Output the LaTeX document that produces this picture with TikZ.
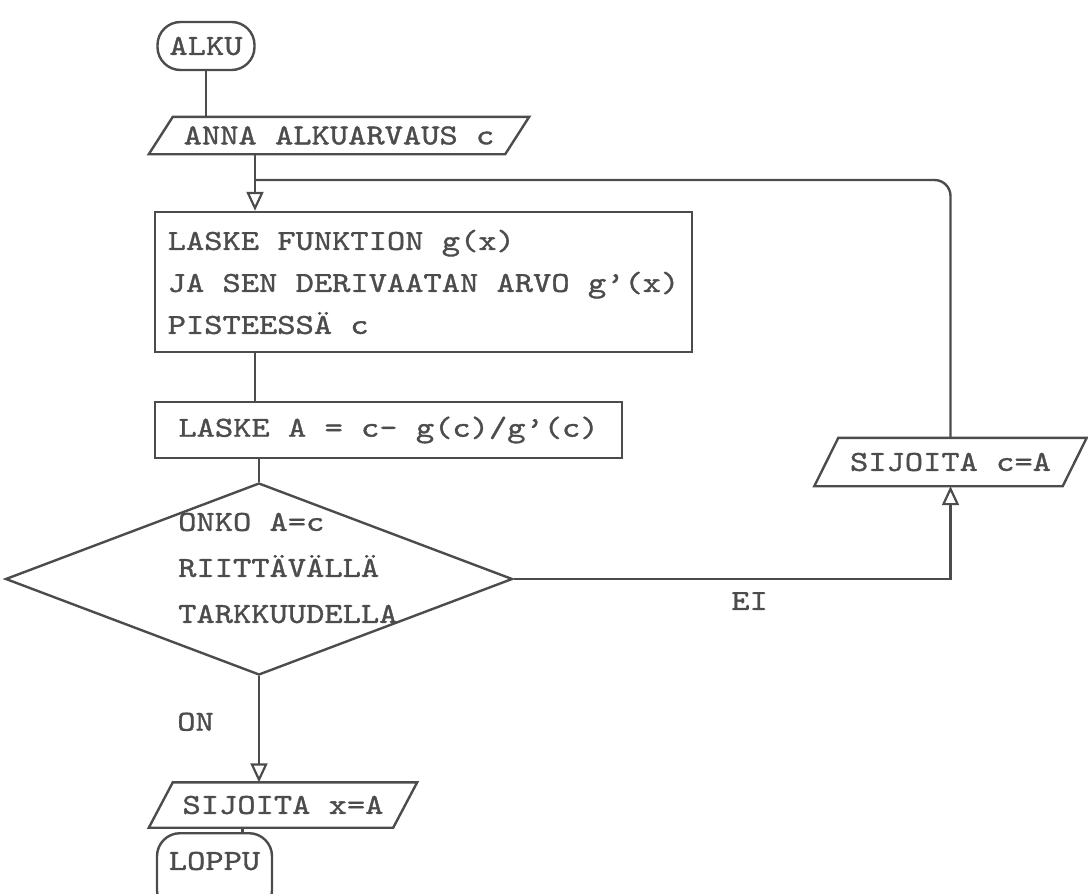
\documentclass[tikz,border=0pt]{standalone}
\usepackage{fontspec}
\newfontfamily\twfont{lmmono10-regular.otf}[FakeStretch=1.2, FakeBold=1.2]
\usetikzlibrary{arrows.meta,positioning,shapes.geometric}
\definecolor{ink}{gray}{0.3}
\tikzset{
  txt/.style={font=\twfont\fontsize{29}{42}\selectfont, text=ink, inner sep=0pt},
  term/.style={txt, draw=ink, line width=2.4pt, rounded corners=23pt},
  proc/.style={txt, draw=ink, line width=2.4pt, align=left},
  io/.style={txt},
  decide/.style={txt, draw=ink, line width=2.4pt, diamond},
  lbl/.style={txt},
  wire/.style={draw=ink, line width=2.4pt},
  arr/.style={wire, -{Triangle[open, length=19pt, width=17pt, line width=2.2pt]}},
}
\begin{document}
\begin{tikzpicture}[x=1pt,y=-1pt]
\useasboundingbox (0,0) rectangle (1088,894);
% main column
\node[term, minimum width=97pt, minimum height=48pt] (alku) at (206,46) {ALKU};
\node[io, minimum width=356pt, minimum height=37pt] (anna) at (339,135.5) {ANNA ALKUARVAUS c};
\coordinate (join) at (255,180);
\node[proc, minimum width=537pt, minimum height=140pt] (laske1) at (423.5,282) {LASKE FUNKTION g(x)\\JA SEN DERIVAATAN ARVO g’(x)\\PISTEESSÄ c};
\node[proc, minimum width=467pt, minimum height=56pt] (laske2) at (388.5,430) {LASKE A = c- g(c)/g’(c)};
\node[decide, minimum width=507pt, minimum height=192pt] (test) at (259,579) {};
\node[txt, align=left, anchor=west, font=\twfont\fontsize{29}{46}\selectfont] (testtxt) at (178,568) {ONKO A=c\\RIITTÄVÄLLÄ\\TARKKUUDELLA};
\node[io, minimum width=244pt, minimum height=45pt] (sijx) at (283,805) {SIJOITA x=A};
\node[term, minimum width=115pt, minimum height=80pt, anchor=north] (loppu) at (214.5,832) {};
\node[txt] (lopputxt) at (214.5,861) {LOPPU};
% loop back
\node[io, minimum width=248pt, minimum height=48pt] (sijc) at (950.5,462) {SIJOITA c=A};
% input/output outlines
\foreach \n in {anna,sijc,sijx}
  \draw[wire] ([xshift=12pt]\n.north west) -- ([xshift=12pt]\n.north east)
    -- ([xshift=-12pt]\n.south east) -- ([xshift=-12pt]\n.south west) -- cycle;
% connectors
\draw[wire] (alku.south) -- (alku.south |- anna.north);
\draw[arr] (anna.south -| join) -- (laske1.north -| join);
\draw[wire, rounded corners=16pt] (sijc.north) |- (join);
\draw[wire] (laske1.south -| join) -- (laske2.north -| join);
\draw[wire] (laske2.south -| test.north) -- (test.north);
\draw[arr] (test.east) -| node[lbl, pos=.27, below=12pt] (ei) {EI} (sijc.south);
\draw[arr] (test.south) -- node[lbl, pos=.43, left=44pt] (on) {ON} (test.south |- sijx.north);
\draw[wire] ([xshift=28pt]loppu.north) -- ([xshift=28pt]loppu.north |- sijx.south);
\end{tikzpicture}
\end{document}
